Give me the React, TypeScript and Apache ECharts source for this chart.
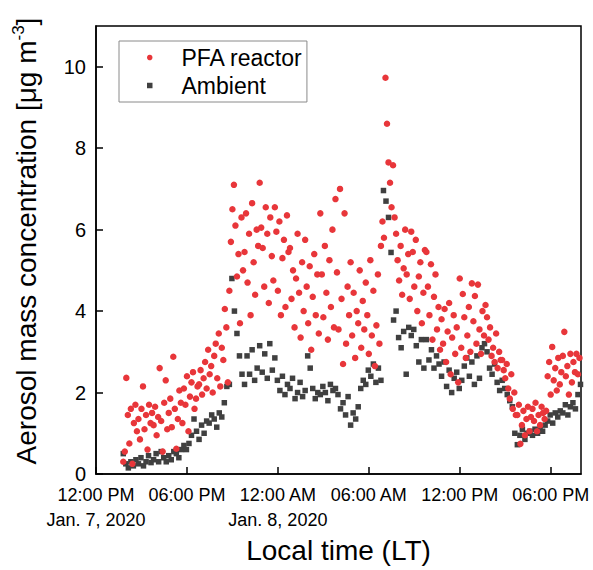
import { useEffect, useRef } from "react";
import * as echarts from "echarts";

// x values are hours after 12:00 PM, Jan. 7, 2020 (local time)
const FIRST_HOUR = 1.8;
const PFA_STEP = 0.1; // 6 min
const AMBIENT_STEP = 1 / 6; // 10 min

const xTickLabels = [
  "12:00 PM\nJan. 7, 2020",
  "06:00 PM",
  "12:00 AM\nJan. 8, 2020",
  "06:00 AM",
  "12:00 PM",
  "06:00 PM",
];

// PFA reactor, µg m-3, one row per hour
const pfaReactor = [
  0.3, 0.55, 2.36, 1.45, 0.75, 1.6, 0.25, 1.25, 1.7, 1.05,
  1.35, 0.85, 1.6, 2.15, 1.1, 1.45, 0.6, 1.7, 1.25, 1.5,
  1.2, 1.65, 0.95, 1.4, 2.6, 1.3, 0.55, 1.75, 2.3, 1.1,
  1.5, 1.85, 1.15, 2.88, 1.6, 0.62, 1.35, 2.05, 1.75, 1.25,
  2.1, 1.7, 2.4, 1.05, 1.9, 2.25, 2.5, 1.6, 1.85, 2.15,
  2.2, 2.55, 1.95, 2.35, 2.75, 2.1, 3.05, 2.45, 2.65, 2.0,
  2.9, 3.2, 2.35, 3.45, 2.15, 3.1, 2.8, 4.05, 3.6, 2.25,
  4.5, 5.7, 6.5, 7.1, 6.1, 4.85, 5.4, 3.7, 6.3, 5.0,
  5.45, 6.4, 4.7, 5.9, 3.9, 6.65, 5.2, 4.4, 6.0, 5.6,
  7.15, 6.05, 5.55, 4.6, 6.55, 5.9, 4.2, 6.3, 5.35, 4.75,
  6.55, 5.95, 4.5, 6.2, 3.9, 5.3, 5.75, 4.1, 6.35, 5.45,
  5.55, 4.3, 5.0, 3.6, 4.8, 5.9, 4.45, 3.35, 5.2, 4.0,
  5.75, 4.6, 3.7, 5.1, 3.05, 4.35, 5.4, 3.9, 4.9, 3.45,
  6.4, 4.9, 3.85, 5.6, 4.45, 3.3, 5.25, 4.1, 6.0, 3.6,
  6.75, 4.95, 3.55, 7.0, 4.3, 2.7, 6.4, 3.2, 4.6, 3.9,
  5.2, 3.4, 4.45, 2.85, 4.0, 3.7, 5.0, 3.1, 4.25, 3.55,
  4.7, 3.9, 2.95, 5.25, 3.4, 4.5, 2.65, 3.65, 4.9, 3.2,
  5.6, 6.2, 5.8, 9.73, 8.6, 7.65, 7.15, 6.55, 7.58, 6.3,
  5.9, 5.25, 4.75, 5.6, 4.4, 5.05, 6.0, 4.9, 5.4, 4.3,
  5.95, 5.45, 4.6, 5.75, 4.0, 4.85, 5.2, 3.7, 4.45, 5.5,
  5.45, 4.6, 3.9, 5.15, 3.3, 4.35, 4.9, 3.55, 4.1, 3.05,
  3.8, 3.2, 4.05, 2.75, 3.5, 4.2, 2.45, 3.35, 3.9, 2.95,
  3.6, 2.25, 4.8, 3.1, 4.42, 3.85, 2.85, 3.4, 4.1, 3.0,
  4.68, 3.75, 4.37, 3.2, 4.65, 3.55, 2.95, 4.0, 3.4, 4.15,
  3.85, 3.3, 3.6, 2.9, 3.1, 2.75, 3.45, 2.6, 3.0, 2.8,
  2.8, 2.55, 2.35, 2.7, 2.1, 1.85, 2.45, 1.6, 2.0, 1.45,
  1.45, 1.7, 0.74, 1.2, 1.55, 0.95, 1.35, 1.65, 1.05, 1.4,
  1.6, 1.3, 1.75, 1.05, 1.45, 1.2, 1.65, 1.5, 1.35, 1.55,
  2.4, 2.75, 1.95, 3.12, 2.3, 2.6, 2.05, 2.85, 2.2, 2.5,
  2.9, 3.49, 2.4, 2.65, 1.95, 2.95, 2.25, 2.75, 2.5, 2.95,
  2.45, 2.85,
];

// Ambient, µg m-3, one row per hour
const ambient = [
  0.5, 0.25, 0.15, 0.3, 0.2, 0.35,
  0.25, 0.4, 0.2, 0.3, 0.45, 0.28,
  0.35, 0.5, 0.3, 0.55, 0.4, 0.3,
  0.45, 0.35, 0.55, 0.5, 0.4, 0.6,
  0.7, 0.6, 0.75, 0.95, 1.35, 1.05,
  0.85, 1.2, 1.0, 1.3, 1.25, 1.45,
  1.35, 1.15, 1.5, 1.4, 1.75, 2.15,
  2.2, 4.8, 4.0, 3.45, 2.9, 2.45,
  2.2, 2.9, 2.45, 3.05, 2.3, 2.6,
  3.15, 2.5, 2.95, 2.35, 3.2, 2.55,
  2.85, 2.3, 2.05, 2.4, 1.95, 2.2,
  2.1, 2.35, 1.85, 2.0, 2.25, 1.9,
  2.05, 2.9, 2.6, 2.1, 1.85, 2.0,
  1.95, 2.15, 2.0, 1.8, 2.2, 2.05,
  2.1, 1.95, 1.6, 1.75, 1.45, 1.9,
  1.2, 1.5, 1.35, 1.65, 2.1, 2.3,
  2.2, 2.55, 2.4, 2.7, 2.25, 2.6,
  2.3, 6.96, 6.7, 6.3, 5.44, 3.78,
  4.0, 3.35, 3.1, 3.5, 2.45, 3.6,
  3.4, 3.55, 3.15, 2.75, 3.3, 2.6,
  3.3, 2.8, 3.05, 2.6, 2.9, 2.7,
  2.4, 2.75, 2.15, 2.55, 2.0, 2.35,
  2.5, 2.1, 2.3, 2.65, 2.85, 2.4,
  2.75, 2.2, 2.9, 2.35, 3.1, 3.2,
  3.0, 2.6, 2.45, 2.7, 2.25, 2.05,
  2.3, 2.1, 1.95, 1.8, 1.65, 1.0,
  0.72, 0.95, 1.1, 0.85, 1.0, 1.05,
  0.95, 1.1, 1.0, 1.15, 1.05, 1.2,
  1.3, 1.45, 1.25, 1.5, 1.4, 1.55,
  1.5, 1.7, 1.45, 1.65, 1.75, 1.6,
  1.95, 2.2,
];

const FONT = "'Liberation Sans', Arial, sans-serif";

export default function App() {
  const chartRef = useRef<HTMLDivElement | null>(null);

  useEffect(() => {
    if (!chartRef.current) return;
    const chart = echarts.init(chartRef.current, undefined, { renderer: "svg" });

    const pfaData = pfaReactor.map((v, i) => [FIRST_HOUR + i * PFA_STEP, v]);
    const ambientData = ambient.map((v, i) => [FIRST_HOUR + i * AMBIENT_STEP, v]);

    chart.setOption({
      animation: false,
      textStyle: { fontFamily: FONT, color: "#000" },
      grid: {
        left: 96,
        right: 12,
        top: 26,
        bottom: 96,
        show: true,
        borderColor: "#000",
        borderWidth: 1.5,
        outerBoundsMode: "none",
      },
      legend: {
        orient: "vertical",
        left: 119,
        top: 41,
        padding: [5, 4, 5, 28],
        itemWidth: 5.5,
        itemHeight: 5.5,
        itemGap: 5,
        borderColor: "#8a8a8a",
        borderWidth: 1,
        borderRadius: 0,
        data: ["PFA reactor", "Ambient"],
        textStyle: {
          fontSize: 23,
          fontFamily: FONT,
          color: "#000",
          lineHeight: 23,
          padding: [0, 0, 0, 24],
        },
        selectedMode: false,
      },
      xAxis: {
        type: "value",
        min: 0,
        max: 32,
        interval: 6,
        name: "Local time (LT)",
        nameLocation: "middle",
        nameGap: 61,
        nameTextStyle: { fontSize: 28, fontFamily: FONT, color: "#000" },
        axisLine: { lineStyle: { color: "#000", width: 1.5 } },
        axisTick: { inside: true, length: 7, lineStyle: { color: "#000", width: 1.5 } },
        splitLine: { show: false },
        axisLabel: {
          margin: 8,
          fontSize: 18,
          lineHeight: 25,
          color: "#000",
          fontFamily: FONT,
          showMaxLabel: false,
          formatter: (v: number) =>
            v % 6 === 0 && v / 6 < xTickLabels.length ? xTickLabels[v / 6] : "",
        },
      },
      yAxis: {
        type: "value",
        min: 0,
        max: 11,
        interval: 2,
        axisLine: { show: true, lineStyle: { color: "#000", width: 1.5 } },
        axisTick: { show: true, inside: true, length: 7, lineStyle: { color: "#000", width: 1.5 } },
        splitLine: { show: false },
        axisLabel: {
          margin: 10,
          fontSize: 20,
          color: "#000",
          fontFamily: FONT,
          showMaxLabel: false,
        },
      },
      graphic: [
        {
          type: "text",
          x: 26,
          y: 241,
          rotation: Math.PI / 2,
          style: {
            text: "{a|Aerosol mass concentration [μg m}{s|-3}{a|]}",
            align: "center",
            verticalAlign: "middle",
            fill: "#000",
            rich: {
              a: { fontSize: 28, fontFamily: FONT, lineHeight: 32, fill: "#000" },
              s: { fontSize: 17, fontFamily: FONT, lineHeight: 32, verticalAlign: "top", fill: "#000" },
            },
          },
        },
      ],
      series: [
        {
          name: "Ambient",
          type: "scatter",
          symbol: "rect",
          symbolSize: 5.5,
          itemStyle: { color: "#404040", opacity: 1 },
          emphasis: { disabled: true },
          silent: true,
          data: ambientData,
        },
        {
          name: "PFA reactor",
          type: "scatter",
          symbol: "circle",
          symbolSize: 6.5,
          itemStyle: { color: "#e8363a", opacity: 1 },
          emphasis: { disabled: true },
          silent: true,
          data: pfaData,
        },
      ],
    });

    return () => {
      chart.dispose();
    };
  }, []);

  return (
    <div
      ref={chartRef}
      style={{ position: "absolute", left: 0, top: 0, width: 593, height: 570, background: "#fff" }}
    />
  );
}
